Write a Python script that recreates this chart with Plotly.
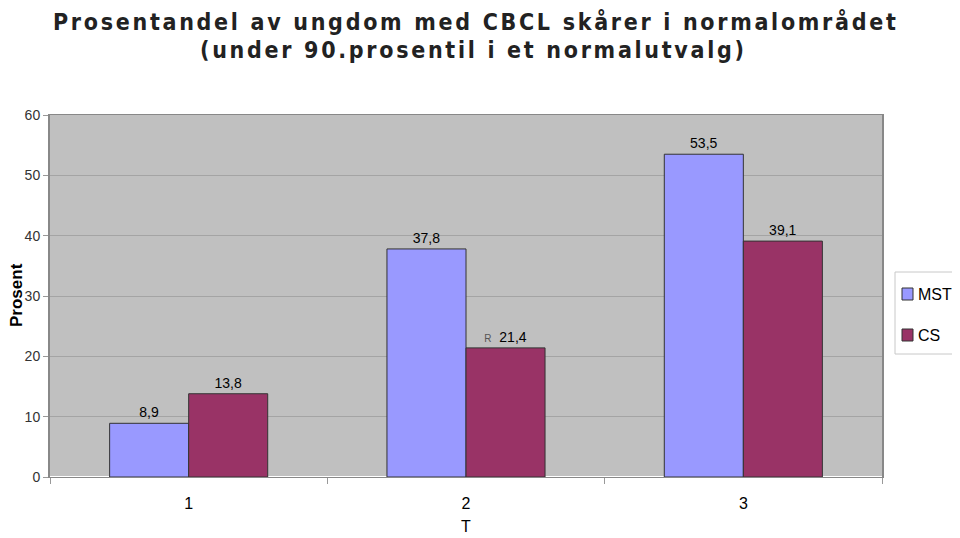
import plotly.graph_objects as go

categories = ["1", "2", "3"]
mst_values = [8.9, 37.8, 53.5]
cs_values = [13.8, 21.4, 39.1]
mst_labels = ["8,9", "37,8", "53,5"]
cs_labels = ["13,8", "<span style='font-size:10px;color:#555'>R</span>  21,4", "39,1"]
y_ticks = [0, 10, 20, 30, 40, 50, 60]
series_names = ["MST", "CS"]
series_colors = ["#9999FF", "#993366"]

label_font = dict(family="Liberation Sans, Arial", size=14, color="#000000")

fig = go.Figure()
for name, vals, labels, color in zip(series_names, [mst_values, cs_values],
                                     [mst_labels, cs_labels], series_colors):
    fig.add_trace(go.Bar(
        x=categories, y=vals, name=name,
        marker=dict(color=color, line=dict(color="#333333", width=1)),
        text=labels, textposition="outside", cliponaxis=False,
        textfont=label_font, showlegend=False,
    ))

# plot area in screen pixels: x 50..882, y 115..477
PX0, PX1, PY0, PY1 = 50, 882, 115, 477
def px(x):
    return (x - PX0) / (PX1 - PX0)
def py(y):
    return (PY1 - y) / (PY1 - PY0)

title_font = dict(family="Liberation Sans Narrow, DejaVu Sans Condensed, Liberation Sans",
                  size=23, color="#222222")
ls = "letter-spacing:2.7px"

annotations = [
    dict(text=f"<span style='{ls}'><b>Prosentandel av ungdom med CBCL skårer i normalområdet</b></span>",
         xref="paper", yref="paper", x=px(476), y=py(22),
         xanchor="center", yanchor="middle", showarrow=False, font=title_font),
    dict(text=f"<span style='{ls}'><b>(under 90.prosentil i et normalutvalg)</b></span>",
         xref="paper", yref="paper", x=px(473), y=py(50),
         xanchor="center", yanchor="middle", showarrow=False, font=title_font),
    dict(text="<b>Prosent</b>", textangle=-90,
         xref="paper", yref="paper", x=px(16), y=py(295),
         xanchor="center", yanchor="middle", showarrow=False,
         font=dict(family="Liberation Sans, Arial", size=17, color="#000000")),
    dict(text="T",
         xref="paper", yref="paper", x=px(466), y=py(526),
         xanchor="center", yanchor="middle", showarrow=False,
         font=dict(family="Liberation Sans, Arial", size=16, color="#000000")),
]

shapes = [
    dict(type="rect", xref="paper", yref="paper",
         x0=px(895), x1=px(975), y0=py(354), y1=py(272),
         fillcolor="#FFFFFF", line=dict(color="#C8C8C8", width=1)),
]
legend_rows = [294, 335]
for name, color, yc in zip(series_names, series_colors, legend_rows):
    shapes.append(dict(type="rect", xref="paper", yref="paper",
                       x0=px(902), x1=px(913), y0=py(yc + 6), y1=py(yc - 6),
                       fillcolor=color, line=dict(color="#333333", width=1)))
    annotations.append(dict(text=name, xref="paper", yref="paper",
                            x=px(916), y=py(yc), xanchor="left", yanchor="middle",
                            showarrow=False,
                            font=dict(family="Liberation Sans, Arial", size=16, color="#000000")))

fig.update_layout(
    width=960, height=538,
    paper_bgcolor="#FFFFFF", plot_bgcolor="#C0C0C0",
    margin=dict(l=42, r=86, t=107, b=69, autoexpand=False),
    barmode="group", bargap=0.43, bargroupgap=0,
    showlegend=False,
    font=dict(family="Liberation Sans, Arial", size=14, color="#000000"),
    annotations=annotations, shapes=shapes,
)
fig.update_xaxes(
    type="category", tickson="boundaries", ticks="outside", ticklen=6,
    tickcolor="#999999", showline=True, linecolor="#888888", linewidth=1,
    mirror=True, tickfont=dict(size=16), showgrid=False, automargin=False,
    ticklabelstandoff=12,
)
fig.update_yaxes(
    range=[0, 60], tickvals=y_ticks, ticks="outside", ticklen=5, tickcolor="#999999",
    showline=True, linecolor="#888888", linewidth=2, mirror=True,
    gridcolor="#A4A4A4", gridwidth=1, automargin=False,
    tickfont=dict(size=14, color="#333333"),
)
fig.write_html("out.html")
